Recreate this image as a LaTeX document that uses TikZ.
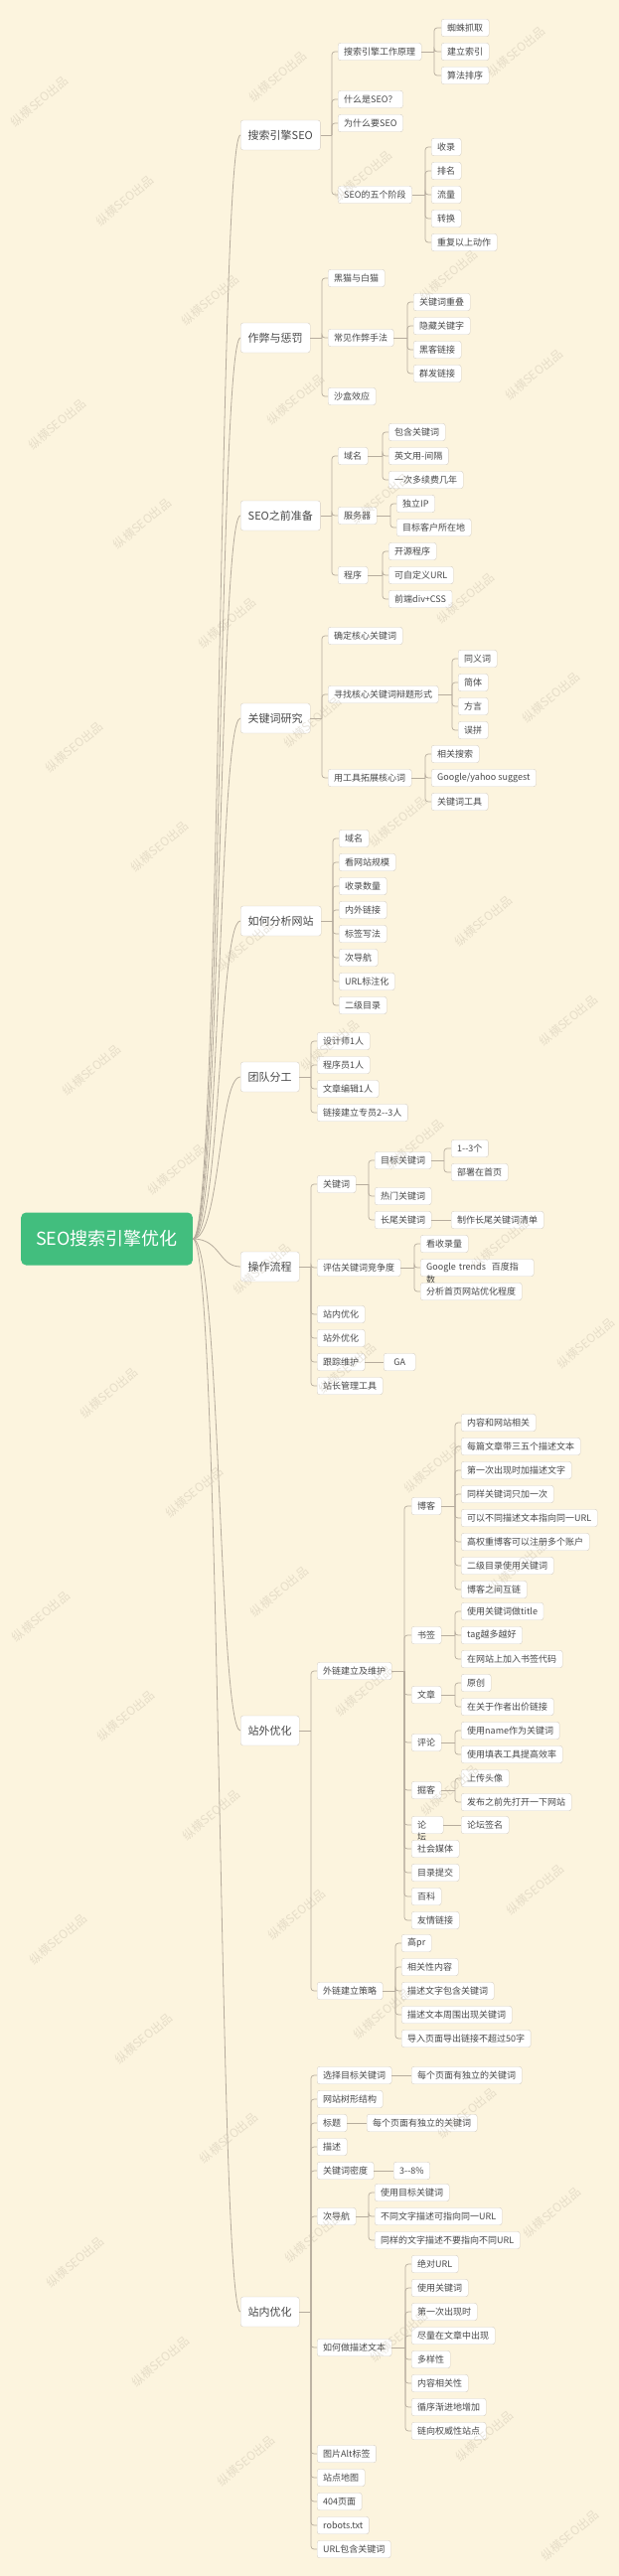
\documentclass[tikz,border=0pt]{standalone}
\usepackage{fontspec}
\setmainfont{Noto Sans CJK SC}
\definecolor{paper}{RGB}{252,244,222}
\definecolor{rootgreen}{RGB}{66,190,126}
\definecolor{linegray}{RGB}{182,172,157}
\definecolor{boxgray}{RGB}{214,207,195}
\definecolor{textgray}{RGB}{72,72,72}
\definecolor{wmgray}{RGB}{190,180,160}
\tikzset{
  edge/.style={draw=linegray, line width=0.7pt, rounded corners=3pt},
  branch/.style={draw=linegray, line width=0.8pt},
  leaf/.style={draw=boxgray, fill=white, rounded corners=2.5pt, anchor=west,
    minimum height=17.5pt, inner xsep=6pt, inner ysep=0pt, text=textgray,
    font=\fontsize{9}{11}\selectfont},
  topic/.style={leaf, minimum height=30pt, inner xsep=7.5pt,
    font=\fontsize{11}{13}\selectfont},
  root/.style={fill=rootgreen, rounded corners=5pt, anchor=west, text=white,
    minimum height=53pt, inner xsep=15pt, font=\fontsize{18}{20}\selectfont},
  spill/.style={anchor=north west, inner sep=0pt, text=textgray,
    font=\fontsize{9}{11}\selectfont},
  wmark/.style={rotate=40, text=wmgray, text opacity=0.35, inner sep=0pt,
    font=\fontsize{12}{14}\selectfont}
}
\begin{document}
\begin{tikzpicture}[x=1pt, y=-1pt]
	% background
	\fill[paper] (0,0) rectangle (623,2593);
	\useasboundingbox (0,0) rectangle (623,2593);
	% root and main topics
	\node[root] (root) at (21,1247) {SEO搜索引擎优化};
	\node[topic] (se) at (242,136) {搜索引擎SEO};
	\node[topic] (cheat) at (242,340) {作弊与惩罚};
	\node[topic] (prep) at (242,519) {SEO之前准备};
	\node[topic] (kw) at (242,723) {关键词研究};
	\node[topic] (ana) at (242,927) {如何分析网站};
	\node[topic] (team) at (242,1084) {团队分工};
	\node[topic] (flow) at (242,1275) {操作流程};
	\node[topic] (off) at (242,1742) {站外优化};
	\node[topic] (on) at (242,2327) {站内优化};
	\foreach \tp in {se,cheat,prep,kw,ana,team,flow,off,on}
		\draw[branch] (root.east) .. controls +(28,0) and +(-22,0) .. (\tp.west);

	% 搜索引擎SEO
	\coordinate (se-j) at (334,136);
	\draw[edge] (se) -- (se-j);
	\foreach \nm/\yy/\tx in {yl/52/搜索引擎工作原理, sw/100/什么是SEO？, ww/124/为什么要SEO, jd/196/SEO的五个阶段}{
		\node[leaf] (\nm) at (340,\yy) {\tx};
		\draw[edge] (se-j) |- (\nm.west);
	}
	\coordinate (yl-j) at (437,52);
	\draw[edge] (yl) -- (yl-j);
	\foreach \nm/\yy/\tx in {yl1/28/蜘蛛抓取, yl2/52/建立索引, yl3/76/算法排序}{
		\node[leaf] (\nm) at (444,\yy) {\tx};
		\draw[edge] (yl-j) |- (\nm.west);
	}
	\coordinate (jd-j) at (428,196);
	\draw[edge] (jd) -- (jd-j);
	\foreach \nm/\yy/\tx in {jd1/148/收录, jd2/172/排名, jd3/196/流量, jd4/220/转换, jd5/244/重复以上动作}{
		\node[leaf] (\nm) at (434,\yy) {\tx};
		\draw[edge] (jd-j) |- (\nm.west);
	}

	% 作弊与惩罚
	\coordinate (cheat-j) at (324,340);
	\draw[edge] (cheat) -- (cheat-j);
	\foreach \nm/\yy/\tx in {hm/280/黑猫与白猫, zbs/340/常见作弊手法, sh/399/沙盒效应}{
		\node[leaf] (\nm) at (330,\yy) {\tx};
		\draw[edge] (cheat-j) |- (\nm.west);
	}
	\coordinate (zbs-j) at (410,340);
	\draw[edge] (zbs) -- (zbs-j);
	\foreach \nm/\yy/\tx in {zbs1/304/关键词重叠, zbs2/328/隐藏关键字, zbs3/352/黑客链接, zbs4/376/群发链接}{
		\node[leaf] (\nm) at (416,\yy) {\tx};
		\draw[edge] (zbs-j) |- (\nm.west);
	}

	% SEO之前准备
	\coordinate (prep-j) at (334,519);
	\draw[edge] (prep) -- (prep-j);
	\foreach \nm/\yy/\tx in {ym/459/域名, fw/519/服务器, cx/579/程序}{
		\node[leaf] (\nm) at (340,\yy) {\tx};
		\draw[edge] (prep-j) |- (\nm.west);
	}
	\coordinate (ym-j) at (385,459);
	\draw[edge] (ym) -- (ym-j);
	\foreach \nm/\yy/\tx in {ym1/435/包含关键词, ym2/459/英文用-间隔, ym3/483/一次多续费几年}{
		\node[leaf] (\nm) at (391,\yy) {\tx};
		\draw[edge] (ym-j) |- (\nm.west);
	}
	\coordinate (fw-j) at (393,519);
	\draw[edge] (fw) -- (fw-j);
	\foreach \nm/\yy/\tx in {fw1/507/独立IP, fw2/531/目标客户所在地}{
		\node[leaf] (\nm) at (399,\yy) {\tx};
		\draw[edge] (fw-j) |- (\nm.west);
	}
	\coordinate (cx-j) at (385,579);
	\draw[edge] (cx) -- (cx-j);
	\foreach \nm/\yy/\tx in {cx1/555/开源程序, cx2/579/可自定义URL, cx3/603/前端div+CSS}{
		\node[leaf] (\nm) at (391,\yy) {\tx};
		\draw[edge] (cx-j) |- (\nm.west);
	}

	% 关键词研究
	\coordinate (kw-j) at (324,723);
	\draw[edge] (kw) -- (kw-j);
	\foreach \nm/\yy/\tx in {hx/640/确定核心关键词, bt/699/寻找核心关键词辩题形式, tz/783/用工具拓展核心词}{
		\node[leaf] (\nm) at (330,\yy) {\tx};
		\draw[edge] (kw-j) |- (\nm.west);
	}
	\coordinate (bt-j) at (455,699);
	\draw[edge] (bt) -- (bt-j);
	\foreach \nm/\yy/\tx in {bt1/663/同义词, bt2/687/简体, bt3/711/方言, bt4/735/误拼}{
		\node[leaf] (\nm) at (461,\yy) {\tx};
		\draw[edge] (bt-j) |- (\nm.west);
	}
	\coordinate (tz-j) at (428,783);
	\draw[edge] (tz) -- (tz-j);
	\node[leaf] (tz1) at (434,759) {相关搜索};
	\node[leaf] (tz2) at (434,783) {Google/yahoo suggest};
	\node[leaf] (tz3) at (434,807) {关键词工具};
	\foreach \c in {tz1,tz2,tz3}
		\draw[edge] (tz-j) |- (\c.west);

	% 如何分析网站
	\coordinate (ana-j) at (335,927);
	\draw[edge] (ana) -- (ana-j);
	\foreach \nm/\yy/\tx in {an1/844/域名, an2/868/看网站规模, an3/892/收录数量, an4/916/内外链接, an5/940/标签写法, an6/964/次导航, an7/988/URL标注化, an8/1012/二级目录}{
		\node[leaf] (\nm) at (341,\yy) {\tx};
		\draw[edge] (ana-j) |- (\nm.west);
	}

	% 团队分工
	\coordinate (team-j) at (313,1084);
	\draw[edge] (team) -- (team-j);
	\foreach \nm/\yy/\tx in {td1/1048/设计师1人, td2/1072/程序员1人, td3/1096/文章编辑1人, td4/1120/链接建立专员2-{}-3人}{
		\node[leaf] (\nm) at (319,\yy) {\tx};
		\draw[edge] (team-j) |- (\nm.west);
	}

	% 操作流程
	\coordinate (flow-j) at (313,1275);
	\draw[edge] (flow) -- (flow-j);
	\foreach \nm/\yy/\tx in {gj/1192/关键词, pg/1276/评估关键词竞争度, zn/1323/站内优化, zw/1347/站外优化, gz/1371/跟踪维护, zz/1395/站长管理工具}{
		\node[leaf] (\nm) at (319,\yy) {\tx};
		\draw[edge] (flow-j) |- (\nm.west);
	}
	\coordinate (gj-j) at (371,1192);
	\draw[edge] (gj) -- (gj-j);
	\foreach \nm/\yy/\tx in {mb/1168/目标关键词, rm/1204/热门关键词, cw/1228/长尾关键词}{
		\node[leaf] (\nm) at (377,\yy) {\tx};
		\draw[edge] (gj-j) |- (\nm.west);
	}
	\coordinate (mb-j) at (447,1168);
	\draw[edge] (mb) -- (mb-j);
	\foreach \nm/\yy/\tx in {mb1/1156/1-{}-3个, mb2/1180/部署在首页}{
		\node[leaf] (\nm) at (454,\yy) {\tx};
		\draw[edge] (mb-j) |- (\nm.west);
	}
	\node[leaf] (cw1) at (454,1228) {制作长尾关键词清单};
	\draw[edge] (cw) -- (cw1);
	\coordinate (pg-j) at (417,1276);
	\draw[edge] (pg) -- (pg-j);
	\node[leaf] (pg1) at (423,1252) {看收录量};
	\node[leaf, text width=102pt, align=left] (pg2) at (423,1276) {Google trends\ \ 百度指};
	\node[spill] (pg2b) at ([xshift=6pt, yshift=1pt]pg2.south west) {数};
	\node[leaf] (pg3) at (423,1300) {分析首页网站优化程度};
	\foreach \c in {pg1,pg2,pg3}
		\draw[edge] (pg-j) |- (\c.west);
	\node[leaf, minimum width=32pt] (ga) at (386,1371) {GA};
	\draw[edge] (gz) -- (ga);

	% 站外优化
	\coordinate (off-j) at (313,1742);
	\draw[edge] (off) -- (off-j);
	\foreach \nm/\yy/\tx in {wh/1682/外链建立及维护, cl/2004/外链建立策略}{
		\node[leaf] (\nm) at (319,\yy) {\tx};
		\draw[edge] (off-j) |- (\nm.west);
	}
	\coordinate (wh-j) at (407,1682);
	\draw[edge] (wh) -- (wh-j);
	\node[leaf] (bk) at (414,1516) {博客};
	\node[leaf] (sq) at (414,1646) {书签};
	\node[leaf] (wz) at (414,1706) {文章};
	\node[leaf] (pl) at (414,1754) {评论};
	\node[leaf] (jk) at (414,1802) {掘客};
	\node[leaf, text width=20pt, align=left] (lt) at (414,1837) {论};
	\node[spill] (lt2) at ([xshift=6pt, yshift=1pt]lt.south west) {坛};
	\node[leaf] (sm) at (414,1861) {社会媒体};
	\node[leaf] (ml) at (414,1885) {目录提交};
	\node[leaf] (bkk) at (414,1909) {百科};
	\node[leaf] (yq) at (414,1933) {友情链接};
	\foreach \c in {bk,sq,wz,pl,jk,lt,sm,ml,bkk,yq}
		\draw[edge] (wh-j) |- (\c.west);
	\coordinate (bk-j) at (458,1516);
	\draw[edge] (bk) -- (bk-j);
	\foreach \nm/\yy/\tx in {bk1/1432/内容和网站相关, bk2/1456/每篇文章带三五个描述文本, bk3/1480/第一次出现时加描述文字, bk4/1504/同样关键词只加一次, bk5/1528/可以不同描述文本指向同一URL, bk6/1552/高权重博客可以注册多个账户, bk7/1576/二级目录使用关键词, bk8/1600/博客之间互链}{
		\node[leaf] (\nm) at (464,\yy) {\tx};
		\draw[edge] (bk-j) |- (\nm.west);
	}
	\coordinate (sq-j) at (458,1646);
	\draw[edge] (sq) -- (sq-j);
	\foreach \nm/\yy/\tx in {sq1/1622/使用关键词做title, sq2/1646/tag越多越好, sq3/1670/在网站上加入书签代码}{
		\node[leaf] (\nm) at (464,\yy) {\tx};
		\draw[edge] (sq-j) |- (\nm.west);
	}
	\coordinate (wz-j) at (458,1706);
	\draw[edge] (wz) -- (wz-j);
	\foreach \nm/\yy/\tx in {wz1/1694/原创, wz2/1718/在关于作者出价链接}{
		\node[leaf] (\nm) at (464,\yy) {\tx};
		\draw[edge] (wz-j) |- (\nm.west);
	}
	\coordinate (pl-j) at (458,1754);
	\draw[edge] (pl) -- (pl-j);
	\foreach \nm/\yy/\tx in {pl1/1742/使用name作为关键词, pl2/1766/使用填表工具提高效率}{
		\node[leaf] (\nm) at (464,\yy) {\tx};
		\draw[edge] (pl-j) |- (\nm.west);
	}
	\coordinate (jk-j) at (458,1802);
	\draw[edge] (jk) -- (jk-j);
	\foreach \nm/\yy/\tx in {jk1/1790/上传头像, jk2/1814/发布之前先打开一下网站}{
		\node[leaf] (\nm) at (464,\yy) {\tx};
		\draw[edge] (jk-j) |- (\nm.west);
	}
	\node[leaf] (lt1) at (464,1837) {论坛签名};
	\draw[edge] (lt) -- (lt1);
	\coordinate (cl-j) at (398,2004);
	\draw[edge] (cl) -- (cl-j);
	\foreach \nm/\yy/\tx in {cl1/1956/高pr, cl2/1980/相关性内容, cl3/2004/描述文字包含关键词, cl4/2028/描述文本周围出现关键词, cl5/2052/导入页面导出链接不超过50字}{
		\node[leaf] (\nm) at (404,\yy) {\tx};
		\draw[edge] (cl-j) |- (\nm.west);
	}

	% 站内优化
	\coordinate (on-j) at (313,2327);
	\draw[edge] (on) -- (on-j);
	\foreach \nm/\yy/\tx in {xz/2089/选择目标关键词, sx/2113/网站树形结构, bti/2137/标题, ms/2161/描述, md/2185/关键词密度, cd/2231/次导航, rh/2363/如何做描述文本, tp/2470/图片Alt标签, dt/2494/站点地图, ye/2518/404页面, rb/2542/robots.txt, ul/2566/URL包含关键词}{
		\node[leaf] (\nm) at (319,\yy) {\tx};
		\draw[edge] (on-j) |- (\nm.west);
	}
	\node[leaf] (xz1) at (414,2089) {每个页面有独立的关键词};
	\draw[edge] (xz) -- (xz1);
	\node[leaf] (bti1) at (369,2137) {每个页面有独立的关键词};
	\draw[edge] (bti) -- (bti1);
	\node[leaf] (md1) at (396,2185) {3-{}-8\%};
	\draw[edge] (md) -- (md1);
	\coordinate (cd-j) at (371,2231);
	\draw[edge] (cd) -- (cd-j);
	\foreach \nm/\yy/\tx in {cd1/2207/使用目标关键词, cd2/2231/不同文字描述可指向同一URL, cd3/2255/同样的文字描述不要指向不同URL}{
		\node[leaf] (\nm) at (377,\yy) {\tx};
		\draw[edge] (cd-j) |- (\nm.west);
	}
	\coordinate (rh-j) at (408,2363);
	\draw[edge] (rh) -- (rh-j);
	\foreach \nm/\yy/\tx in {rh1/2279/绝对URL, rh2/2303/使用关键词, rh3/2327/第一次出现时, rh4/2351/尽量在文章中出现, rh5/2375/多样性, rh6/2399/内容相关性, rh7/2423/循序渐进地增加, rh8/2447/链向权威性站点}{
		\node[leaf] (\nm) at (414,\yy) {\tx};
		\draw[edge] (rh-j) |- (\nm.west);
	}

	% watermark, only the marks that lie inside the page
	\foreach \i in {-2,...,26}
		\foreach \j in {-11,...,3}{
			\pgfmathsetmacro\wx{280+85.8*\i+240*\j}
			\pgfmathsetmacro\wy{77+100*\i-25*\j}
			\ifdim\wx pt>32pt \ifdim\wx pt<590pt \ifdim\wy pt>28pt \ifdim\wy pt<2565pt
				\node[wmark] at (\wx,\wy) {纵横SEO出品};
			\fi\fi\fi\fi
		}
\end{tikzpicture}
\end{document}
